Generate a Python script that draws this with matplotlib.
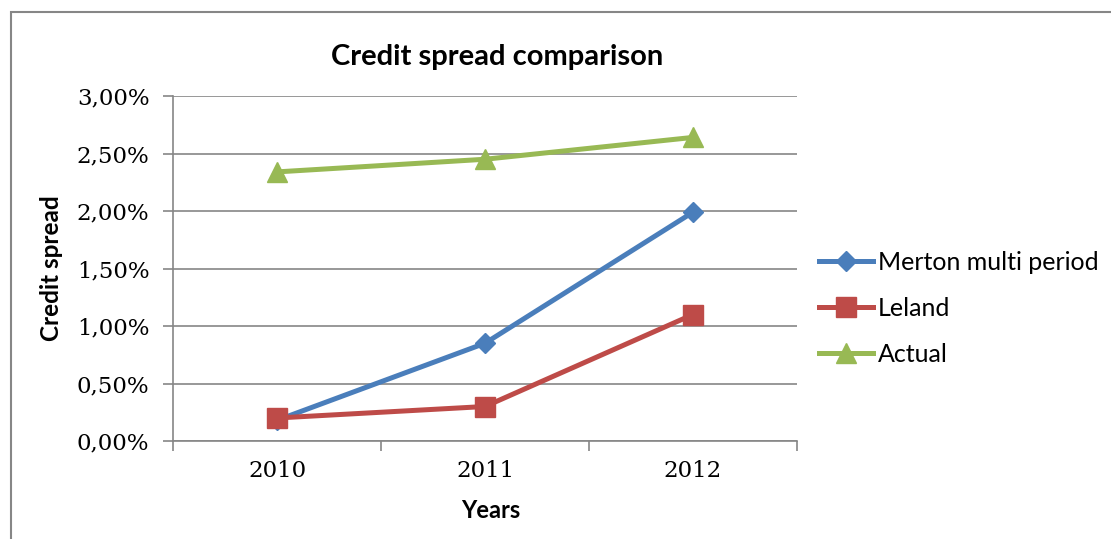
import matplotlib.pyplot as plt
from matplotlib.patches import Rectangle
from matplotlib.ticker import FuncFormatter

years = ["2010", "2011", "2012"]
merton = [0.18, 0.85, 1.99]
leland = [0.20, 0.30, 1.10]
actual = [2.34, 2.45, 2.64]

colors = {"Merton multi period": "#4A7EBB", "Leland": "#BE4B48", "Actual": "#98B954"}
markers = {"Merton multi period": ("D", 10), "Leland": ("s", 14), "Actual": ("^", 14)}

sans = ["Lato", "DejaVu Sans"]
serif = ["DejaVu Serif"]

fig = plt.figure(figsize=(11.11, 5.39), dpi=100)
ax = fig.add_axes([173 / 1111, 1 - 441 / 539, 624 / 1111, 345 / 539])

# outer chart frame (cut off at right and bottom)
fig.patches.append(Rectangle((11 / 1111, -0.1), 1.2, 1 - 12 / 539 + 0.1,
                             transform=fig.transFigure, fill=False,
                             edgecolor="#868686", linewidth=1.5))

x = list(range(len(years)))
for name, vals in [("Merton multi period", merton), ("Leland", leland), ("Actual", actual)]:
    m, ms = markers[name]
    ax.plot(x, vals, color=colors[name], linewidth=3.6, marker=m, markersize=ms,
            label=name, zorder=3)

ax.set_xlim(-0.5, 2.5)
ax.set_ylim(0, 3.0)
ax.set_yticks([0, 0.5, 1.0, 1.5, 2.0, 2.5, 3.0])
ax.yaxis.set_major_formatter(FuncFormatter(lambda v, p: f"{v:.2f}%".replace(".", ",")))
ax.set_xticks(x)
ax.set_xticklabels(years)
ax.set_xticks([-0.5, 0.5, 1.5, 2.5], minor=True)
ax.tick_params(axis="x", which="major", length=0, pad=14)
ax.tick_params(axis="x", which="minor", length=7, color="#868686", width=1.2)
ax.tick_params(axis="y", length=7, color="#868686", width=1.2, pad=10)
for lab in ax.get_xticklabels() + ax.get_yticklabels():
    lab.set_fontfamily(serif)
    lab.set_fontsize(16.5)

ax.grid(axis="y", color="#868686", linewidth=1.2)
ax.set_axisbelow(True)
for s in ["top", "right"]:
    ax.spines[s].set_visible(False)
for s in ["left", "bottom"]:
    ax.spines[s].set_color("#868686")
    ax.spines[s].set_linewidth(1.2)

fig.text(497 / 1111, 1 - 57 / 539, "Credit spread comparison", ha="center", va="center",
         fontsize=21, fontweight="bold", family=sans)
fig.text(52 / 1111, 1 - 268 / 539, "Credit spread", ha="center", va="center",
         rotation=90, fontsize=17.5, fontweight="bold", family=sans)
fig.text(491 / 1111, 1 - 510 / 539, "Years", ha="center", va="center",
         fontsize=17, fontweight="bold", family=sans)

ax.legend(loc="center left", bbox_to_anchor=(796 / 1111, 1 - 308 / 539),
          bbox_transform=fig.transFigure, frameon=False, handlelength=2.16,
          handletextpad=0.2, labelspacing=0.92, prop={"family": sans, "size": 18})

fig.savefig("out.png", dpi=100)
